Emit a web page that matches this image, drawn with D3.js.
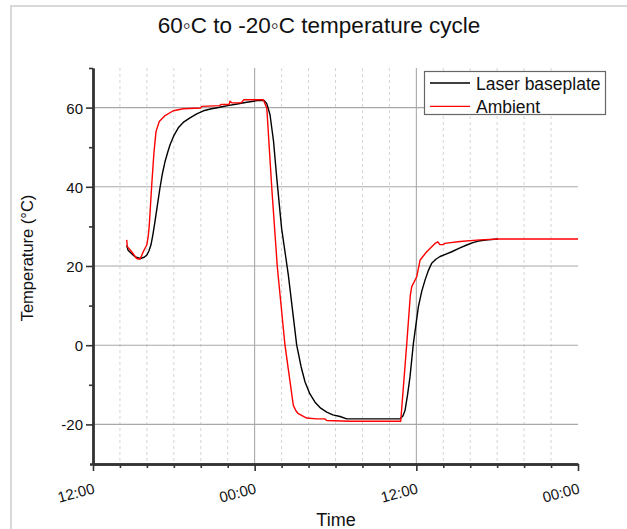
<!DOCTYPE html>
<html>
<head>
<meta charset="utf-8">
<script src="https://cdn.jsdelivr.net/npm/d3@7"></script>
<style>
  html, body { margin: 0; padding: 0; background: #fff; }
  svg { display: block; font-family: "Liberation Sans", Arial, sans-serif; }
</style>
</head>
<body>
<svg id="chart" width="627" height="529"></svg>
<script>
// ---- Data (hours after 12:00 on day 1, temperature in °C) ----
const titleText = "60\u25E6C to -20\u25E6C temperature cycle";
const seriesNames = ["Laser baseplate", "Ambient"];
const seriesColors = ["#000000", "#ff0000"];

const laserHours = [2.5, 2.6, 2.9, 3.15, 3.5, 3.8, 4.0, 4.15, 4.3, 4.45, 4.6, 4.8, 4.97, 5.15, 5.35, 5.55, 5.72, 6.0, 6.33, 6.75, 7.2, 7.7, 8.2, 8.8, 9.4, 10.0, 10.7, 11.3, 11.9, 12.2, 12.7, 12.9, 13.14, 13.4, 13.64, 14.0, 14.5, 15.12, 15.45, 15.74, 16.1, 16.48, 16.9, 17.35, 17.8, 18.34, 18.83, 20.0, 22.8, 23.0, 23.16, 23.35, 23.53, 23.78, 24.15, 24.4, 24.65, 24.9, 25.14, 25.45, 25.76, 26.2, 26.63, 27.2, 27.74, 28.2, 28.6, 29.3, 30.06];
const laserTemp = [25.2, 24.0, 23.0, 22.3, 21.9, 22.2, 22.8, 23.8, 25.3, 28.0, 31.2, 35.8, 39.7, 43.3, 46.4, 48.8, 50.6, 52.9, 54.9, 56.4, 57.4, 58.4, 59.2, 59.7, 60.1, 60.5, 60.9, 61.3, 61.6, 61.8, 61.8, 61.0, 58.2, 51.5, 42.2, 29.5, 17.7, 0.0, -5.5, -9.3, -12.3, -14.4, -15.9, -16.9, -17.6, -18.0, -18.6, -18.6, -18.6, -17.9, -16.5, -12.5, -8.0, 0.4, 9.7, 13.6, 16.5, 18.9, 20.7, 21.7, 22.4, 23.0, 23.6, 24.5, 25.3, 25.9, 26.3, 26.6, 26.8];

const ambientHours = [2.5, 2.55, 2.87, 3.24, 3.49, 3.73, 3.99, 4.1, 4.18, 4.36, 4.53, 4.68, 4.92, 5.35, 5.96, 6.7, 8.0, 8.07, 9.4, 9.5, 10.1, 10.17, 10.3, 11.0, 11.2, 12.64, 12.9, 13.27, 13.68, 14.25, 14.87, 15.05, 15.24, 15.86, 16.6, 17.2, 17.35, 19.08, 22.84, 23.29, 23.55, 23.66, 24.03, 24.28, 24.77, 25.39, 25.6, 25.75, 26.0, 26.1, 27.25, 28.73, 30.09, 36.0];
const ambientTemp = [26.6, 24.9, 23.6, 21.9, 21.7, 23.6, 25.3, 27.5, 30.4, 40.5, 48.9, 54.0, 56.5, 58.0, 59.2, 59.7, 59.9, 60.3, 60.5, 60.8, 60.8, 61.6, 61.2, 61.2, 62.0, 62.0, 59.9, 39.7, 19.8, 0.0, -15.2, -16.5, -17.3, -18.4, -18.6, -18.6, -19.0, -19.2, -19.2, 0.4, 12.5, 14.8, 17.3, 21.5, 23.6, 25.7, 26.1, 25.4, 25.4, 25.7, 26.2, 26.6, 26.8, 26.8];

const yTickValues = [-20, 0, 20, 40, 60];
const yMinorValues = [-10, 10, 30, 50, 70];
const xMajorHours = [0, 12, 24, 36];
const xMinorStepHours = 2;
const yDomain = [-30, 70];

// ---- Setup ----
const base = new Date(2020, 0, 1, 12, 0, 0);
const toDate = h => new Date(base.getTime() + h * 3600e3);

const svg = d3.select("#chart");
const margin = { left: 93, right: 49, top: 68, bottom: 65 };
const W = 627, H = 529;

const x = d3.scaleTime()
  .domain([toDate(0), toDate(36)])
  .range([margin.left, W - margin.right]);
const y = d3.scaleLinear()
  .domain(yDomain)
  .range([H - margin.bottom, margin.top]);

// outer frame
svg.append("rect")
  .attr("x", 11).attr("y", 6).attr("width", 700).attr("height", 600)
  .attr("fill", "none").attr("stroke", "#d9d9d9").attr("stroke-width", 2);

// title
svg.append("text")
  .attr("x", 319).attr("y", 33)
  .attr("text-anchor", "middle")
  .attr("font-size", 22.5)
  .attr("fill", "#111")
  .text(titleText);

const plotL = x.range()[0], plotR = x.range()[1];
const plotT = y.range()[1], plotB = y.range()[0];

// minor vertical dashed grid
const minorDates = d3.range(0, 36 + 0.001, xMinorStepHours)
  .filter(h => !xMajorHours.includes(h)).map(toDate);
svg.append("g").selectAll("line").data(minorDates).join("line")
  .attr("x1", d => x(d)).attr("x2", d => x(d))
  .attr("y1", plotT).attr("y2", plotB)
  .attr("stroke", "#d4d4d4").attr("stroke-width", 1)
  .attr("stroke-dasharray", "3,3");

// major vertical grid
svg.append("g").selectAll("line").data(xMajorHours.slice(1, 3).map(toDate)).join("line")
  .attr("x1", d => x(d)).attr("x2", d => x(d))
  .attr("y1", plotT).attr("y2", plotB)
  .attr("stroke", "#a0a0a0").attr("stroke-width", 1);

// horizontal grid
svg.append("g").selectAll("line").data(yTickValues).join("line")
  .attr("x1", plotL).attr("x2", plotR)
  .attr("y1", d => y(d)).attr("y2", d => y(d))
  .attr("stroke", "#a8a8a8").attr("stroke-width", 1.1);

// lines
const line = d3.line().x(d => x(d.t)).y(d => y(d.v));
const laserData = laserHours.map((h, i) => ({ t: toDate(h), v: laserTemp[i] }));
const ambientData = ambientHours.map((h, i) => ({ t: toDate(h), v: ambientTemp[i] }));

svg.append("path").datum(laserData)
  .attr("d", line).attr("fill", "none")
  .attr("stroke", seriesColors[0]).attr("stroke-width", 1.4)
  .attr("stroke-linejoin", "round");
svg.append("path").datum(ambientData)
  .attr("d", line).attr("fill", "none")
  .attr("stroke", seriesColors[1]).attr("stroke-width", 1.4)
  .attr("stroke-linejoin", "round");

// axes
const axisColor = "#333";
const xAxis = d3.axisBottom(x)
  .tickValues(xMajorHours.map(toDate))
  .tickFormat(d3.timeFormat("%H:%M"))
  .tickSize(7).tickSizeOuter(0);
const xMinorAxis = d3.axisBottom(x)
  .tickValues(minorDates).tickFormat("").tickSize(4).tickSizeOuter(0);
const yAxis = d3.axisLeft(y)
  .tickValues(yTickValues).tickFormat(d => String(d)).tickSize(7).tickSizeOuter(0);
const yMinorAxis = d3.axisLeft(y)
  .tickValues(yMinorValues).tickFormat("").tickSize(4).tickSizeOuter(0);

function styleAxis(g) {
  g.select(".domain").attr("stroke", axisColor).attr("stroke-width", 2.4);
  g.selectAll(".tick line").attr("stroke", axisColor).attr("stroke-width", 1.6);
}

svg.append("g").attr("transform", `translate(0,${plotB})`).call(xMinorAxis).call(styleAxis);
svg.append("g").attr("transform", `translate(${plotL},0)`).call(yMinorAxis).call(styleAxis);

const gy = svg.append("g").attr("transform", `translate(${plotL},0)`).call(yAxis).call(styleAxis);
gy.selectAll(".tick text")
  .attr("font-family", "Liberation Sans, Arial, sans-serif")
  .attr("font-size", 15).attr("fill", "#111")
  .attr("x", -10).attr("dy", "0.36em");

const gx = svg.append("g").attr("transform", `translate(0,${plotB})`).call(xAxis).call(styleAxis);
gx.select(".domain").attr("d", `M${plotL - 3},0.5H${plotR}`);
gx.selectAll(".tick text")
  .attr("font-family", "Liberation Sans, Arial, sans-serif")
  .attr("font-size", 15).attr("fill", "#111")
  .attr("text-anchor", "end")
  .attr("y", 0).attr("dy", 0)
  .attr("transform", "translate(2,29) rotate(-15)");

// axis titles
svg.append("text")
  .attr("transform", "translate(33,258) rotate(-90)")
  .attr("text-anchor", "middle")
  .attr("font-size", 16.5).attr("fill", "#111")
  .text("Temperature (\u00B0C)");
svg.append("text")
  .attr("x", 336).attr("y", 526)
  .attr("text-anchor", "middle")
  .attr("font-size", 18).attr("fill", "#111")
  .text("Time");

// legend
const lg = svg.append("g");
lg.append("rect")
  .attr("x", 424.5).attr("y", 71.5).attr("width", 181).attr("height", 43)
  .attr("fill", "#fff").attr("stroke", "#666").attr("stroke-width", 1.2);
seriesNames.forEach((name, i) => {
  const yy = 83 + i * 23.3;
  lg.append("line").attr("x1", 430).attr("x2", 470).attr("y1", yy).attr("y2", yy)
    .attr("stroke", seriesColors[i]).attr("stroke-width", 1.3);
  lg.append("text").attr("x", 476).attr("y", yy + 7)
    .attr("font-size", 17.5).attr("fill", "#111").text(name);
});
</script>
</body>
</html>
